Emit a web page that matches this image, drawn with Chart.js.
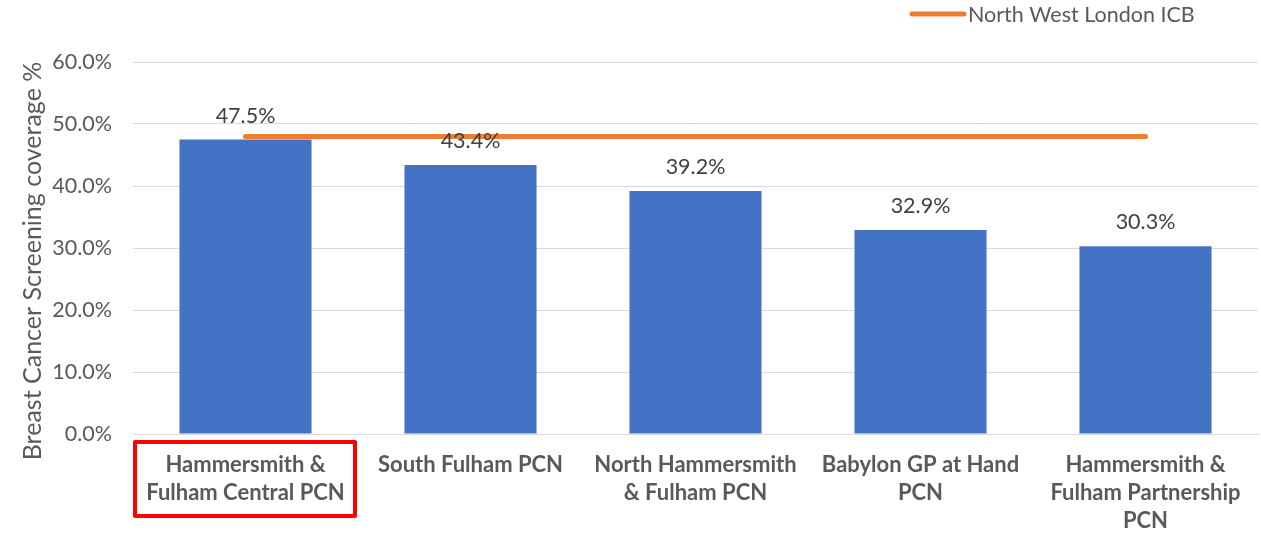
<!DOCTYPE html>
<html><head><meta charset="utf-8">
<script src="https://cdn.jsdelivr.net/npm/chart.js@4/dist/chart.umd.min.js"></script>
<style>html,body{margin:0;padding:0;background:#fff}#wrap{width:1261px;height:533px}</style>
</head><body><div id="wrap"><canvas id="c" width="1261" height="533"></canvas></div>
<script>
const categories = [
  ["Hammersmith &", "Fulham Central PCN"],
  ["South Fulham PCN"],
  ["North Hammersmith", "& Fulham PCN"],
  ["Babylon GP at Hand", "PCN"],
  ["Hammersmith &", "Fulham Partnership", "PCN"]
];
const coverage = [47.5, 43.4, 39.2, 32.9, 30.3];
const icbValues = [48.0, 48.0, 48.0, 48.0, 48.0];
const seriesNames = ["Breast Cancer Screening coverage", "North West London ICB"];
const yAxisTitle = "Breast Cancer Screening coverage %";
const highlightIndex = 0;

const FONT = "Lato, 'Open Sans', sans-serif";

const dataLabels = {
  id: 'dataLabels',
  afterDatasetsDraw(chart) {
    const ctx = chart.ctx;
    const meta = chart.getDatasetMeta(1);
    ctx.save();
    ctx.font = "21.5px " + FONT;
    ctx.fillStyle = "#404040";
    ctx.textAlign = "center";
    ctx.textBaseline = "alphabetic";
    meta.data.forEach((el, i) => {
      ctx.fillText(coverage[i].toFixed(1) + "%", el.x, el.y - 17);
    });
    ctx.restore();
  }
};

const highlightBox = {
  id: 'highlightBox',
  afterDraw(chart) {
    const xs = chart.scales.x;
    const ctx = chart.ctx;
    const w = (xs.right - xs.left) / categories.length;
    const cx = xs.getPixelForValue(highlightIndex);
    ctx.save();
    ctx.strokeStyle = "#FF0000";
    ctx.lineWidth = 4;
    ctx.lineJoin = "round";
    ctx.strokeRect(cx - w / 2 + 2, xs.top + 8, w - 5, 74);
    ctx.restore();
  }
};

const customLegend = {
  id: 'customLegend',
  afterDraw(chart) {
    const ctx = chart.ctx;
    const y = 14;
    ctx.save();
    ctx.strokeStyle = '#ED7D31';
    ctx.lineWidth = 5;
    ctx.lineCap = 'round';
    ctx.beginPath();
    ctx.moveTo(912, y);
    ctx.lineTo(964, y);
    ctx.stroke();
    ctx.fillStyle = '#595959';
    ctx.font = "21.5px " + FONT;
    ctx.textAlign = 'left';
    ctx.textBaseline = 'middle';
    ctx.fillText(seriesNames[1], 968, y + 1);
    ctx.restore();
  }
};

const yTitle = {
  id: 'yTitle',
  afterDraw(chart) {
    const ys = chart.scales.y;
    const ctx = chart.ctx;
    ctx.save();
    ctx.translate(33, (ys.top + ys.bottom) / 2 + 13);
    ctx.rotate(-Math.PI / 2);
    ctx.fillStyle = '#595959';
    ctx.font = "25px " + FONT;
    ctx.textAlign = 'center';
    ctx.textBaseline = 'middle';
    ctx.fillText(yAxisTitle, 0, 0);
    ctx.restore();
  }
};

new Chart(document.getElementById('c'), {
  data: {
    labels: categories,
    datasets: [
      {
        type: 'line',
        label: seriesNames[1],
        data: icbValues,
        borderColor: '#ED7D31',
        backgroundColor: '#ED7D31',
        borderWidth: 5,
        borderCapStyle: 'round',
        pointRadius: 0,
        order: 0
      },
      {
        type: 'bar',
        label: seriesNames[0],
        data: coverage,
        backgroundColor: '#4472C4',
        categoryPercentage: 0.587,
        barPercentage: 1.0,
        order: 1
      }
    ]
  },
  options: {
    responsive: false,
    animation: false,
    layout: { padding: { top: 62, right: 3, left: 10, bottom: 0 } },
    plugins: {
      legend: { display: false },
      tooltip: { enabled: false }
    },
    scales: {
      x: {
        grid: { display: false, drawTicks: false },
        border: { display: true, color: '#d9d9d9', width: 1 },
        afterFit: (s) => { s.height = 99; },
        ticks: {
          color: '#595959',
          font: { family: FONT, size: 22, weight: 'bold', lineHeight: 1.27 },
          maxRotation: 0,
          autoSkip: false,
          padding: 17
        }
      },
      y: {
        min: 0, max: 60,
        grid: { color: '#d9d9d9', drawTicks: false, lineWidth: 1 },
        border: { display: false },
        afterFit: (s) => { s.width = 123; },
        ticks: {
          stepSize: 10,
          color: '#595959',
          font: { family: FONT, size: 21.5 },
          padding: 21,
          callback: (v) => v.toFixed(1) + "%"
        },
        title: { display: false }
      }
    }
  },
  plugins: [dataLabels, highlightBox, customLegend, yTitle]
});
</script></body></html>
